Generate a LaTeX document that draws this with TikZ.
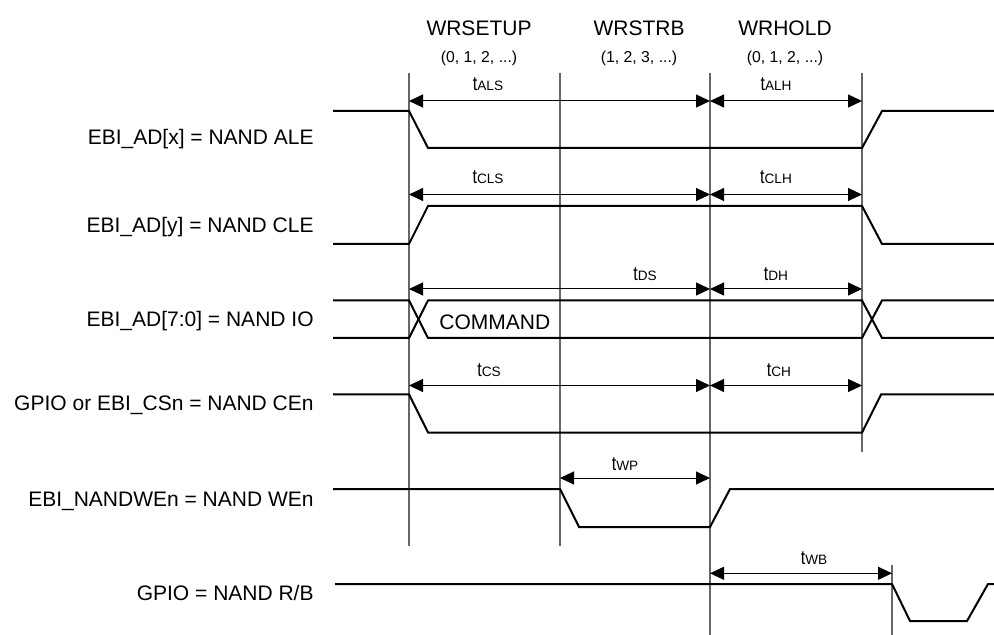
\documentclass[tikz,border=0pt]{standalone}
\usepackage{fontspec}
\setmainfont{Liberation Sans}
\usetikzlibrary{arrows.meta}

\tikzset{
  sig/.style={line width=1pt},
  guide/.style={line width=0.65pt, black!60},
  dimarrow/.style={line width=0.5pt, {Triangle[length=7pt,width=6.5pt]}-{Triangle[length=7pt,width=6.5pt]}},
  siglabel/.style={anchor=base east, inner sep=0pt, font=\fontsize{10.5}{12}\selectfont},
  phase/.style={anchor=base, inner sep=0pt, font=\fontsize{10.5}{12}\selectfont},
  cycles/.style={anchor=base, inner sep=0pt, font=\fontsize{7.9}{9}\selectfont},
  tlabel/.style={anchor=base, inner sep=0pt},
}
\newcommand{\tparam}[1]{{\fontsize{10}{12}\selectfont\scalebox{0.8}[1]{t}}{\fontsize{6.8}{8}\selectfont #1}}

\begin{document}
\begin{tikzpicture}[x=0.5pt, y=-0.5pt]
\useasboundingbox (0,0) rectangle (994,635);

% phase headers
\foreach \x/\n/\p/\c in {479/setup/WRSETUP/{(0, 1, 2, ...)}, 639/strb/WRSTRB/{(1, 2, 3, ...)}, 785/hold/WRHOLD/{(0, 1, 2, ...)}} {
    \node[phase] (\n) at (\x,35.5) {\p};
    \node[cycles] (\n c) at (\x,63) {\c};
}

% guide lines
\foreach \x/\a/\b in {409/73/546, 560/73/546, 710/73/635, 862/73/452, 892/565/635}
    \draw[guide] (\x,\a) -- (\x,\b);

% signal names
\foreach \y/\n/\txt in {145/ale/EBI\_AD[x] = NAND ALE, 232.7/cle/EBI\_AD[y] = NAND CLE,
        326.7/io/EBI\_AD[7:0] = NAND IO, 410/ce/GPIO or EBI\_CSn = NAND CEn,
        506/we/EBI\_NANDWEn = NAND WEn, 600.7/rb/{GPIO = NAND R/B}}
    \node[siglabel] (\n) at (314,\y) {\txt};

% waveforms
\draw[sig] (333,111) -- (409,111) -- (428,148) -- (862,148) -- (882,111) -- (994,111);
\draw[sig] (333,244) -- (409,244) -- (428,206) -- (862,206) -- (882,244) -- (994,244);
\draw[sig] (333,300.5) -- (409,300.5) -- (428,338) -- (862,338) -- (882,300.5) -- (994,300.5);
\draw[sig] (333,338) -- (409,338) -- (428,300.5) -- (862,300.5) -- (882,338) -- (994,338);
\node[anchor=base west, inner sep=0pt, font=\fontsize{10.5}{12}\selectfont] (cmd) at (439,329.3) {COMMAND};
\draw[sig] (333,394.5) -- (409,394.5) -- (428,432.5) -- (862,432.5) -- (881,394.5) -- (994,394.5);
\draw[sig] (333,489) -- (560,489) -- (579,527) -- (710,527) -- (730,489) -- (994,489);
\draw[sig] (335,584) -- (892,584) -- (910,621) -- (967,621) -- (988,584) -- (994,584);

% timing parameters
\foreach \a/\b/\y in {409/710/101, 710/862/101, 409/710/194.5, 710/862/194.5,
        409/710/289, 710/862/289, 409/710/385.5, 710/862/385.5, 560/710/478, 710/892/573.3}
    \draw[dimarrow] (\a,\y) -- (\b,\y);
\foreach \x/\y/\n/\s in {488/90.7/tals/ALS, 776/90.7/talh/ALH, 488/184/tcls/CLS, 776/184/tclh/CLH,
        645/280.7/tds/DS, 776/280.7/tdh/DH, 489/376.7/tcs/CS, 779/376.7/tch/CH,
        625/470/twp/WP, 814/564/twb/WB}
    \node[tlabel] (\n) at (\x,\y) {\tparam{\s}};
\end{tikzpicture}
\end{document}
